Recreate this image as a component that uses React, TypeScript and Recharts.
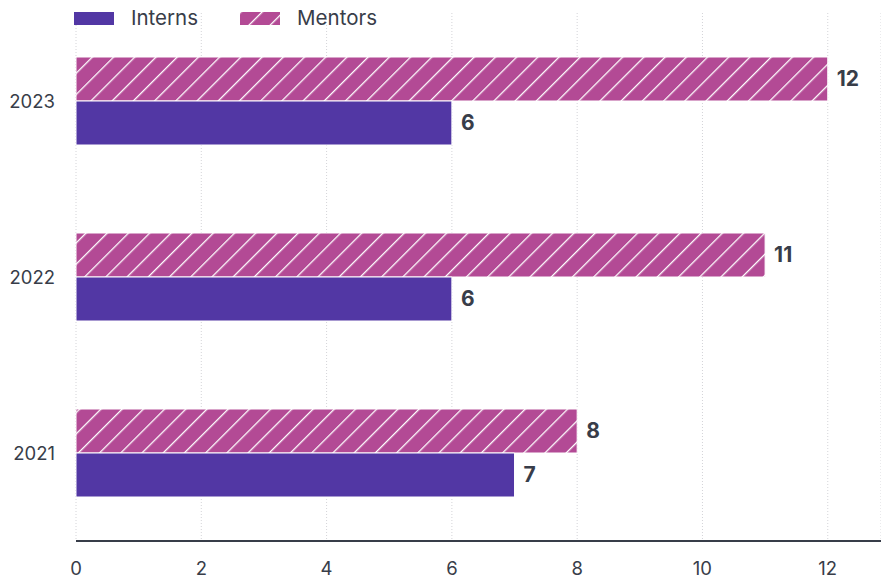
import React from 'react';
import { BarChart, Bar, XAxis, YAxis, CartesianGrid, LabelList } from 'recharts';

const years = ['2023', '2022', '2021'];
const interns = [6, 6, 7];
const mentors = [12, 11, 8];
const xTicks = [0, 2, 4, 6, 8, 10, 12];

const INTERN_COLOR = '#5237a4';
const MENTOR_COLOR = '#b34a95';
const TEXT = '#383d49';

const data = years.map((year, i) => ({ year, Interns: interns[i], Mentors: mentors[i] }));

function Stripes({ id }: { id: string }) {
  return (
    <pattern id={id} patternUnits="userSpaceOnUse" width="15" height="15" patternTransform="rotate(45)">
      <rect width="15" height="15" fill={MENTOR_COLOR} />
      <line x1="0" y1="0" x2="0" y2="15" stroke="#fff" strokeWidth="2.6" />
    </pattern>
  );
}

function ChartLegend() {
  const item = (label: string, swatch: React.ReactNode, ml: number) => (
    <div style={{ display: 'flex', alignItems: 'center', marginLeft: ml }}>
      {swatch}
      <span style={{ marginLeft: 17, fontSize: 20.5, color: TEXT, lineHeight: '22px' }}>{label}</span>
    </div>
  );
  return (
    <div style={{ position: 'absolute', left: 74, top: 7, display: 'flex', alignItems: 'center' }}>
      {item('Interns', <div style={{ width: 40, height: 13, background: INTERN_COLOR }} />, 0)}
      {item(
        'Mentors',
        <svg width={40} height={13} style={{ display: 'block' }}>
          <defs>
            <Stripes id="legendStripes" />
          </defs>
          <rect width={40} height={13} fill="url(#legendStripes)" />
        </svg>,
        42
      )}
    </div>
  );
}

export default function App() {
  return (
    <div style={{ position: 'absolute', left: 0, top: 0, width: 881, height: 578, background: '#fff', fontFamily: 'Inter, sans-serif' }}>
      <BarChart
        width={881}
        height={578}
        data={data}
        layout="vertical"
        margin={{ top: 13, right: 0, left: 0, bottom: 0 }}
        barSize={44}
        barGap={0}
      >
        <defs>
          <Stripes id="mentorStripes" />
        </defs>
        <CartesianGrid horizontal={false} stroke="#d4d4d8" strokeDasharray="1 2" />
        <XAxis
          type="number"
          domain={[0, 12.85]}
          ticks={xTicks}
          tickLine={false}
          axisLine={{ stroke: TEXT, strokeWidth: 2 }}
          tick={{ fontSize: 18.5, fill: TEXT }}
          tickMargin={15}
          height={37}
          allowDataOverflow
        />
        <YAxis
          type="category"
          dataKey="year"
          width={76}
          axisLine={false}
          tickLine={false}
          tick={{ fontSize: 18.5, fill: TEXT }}
          tickMargin={15}
        />
        <Bar dataKey="Mentors" fill="url(#mentorStripes)" stroke="#fff" strokeWidth={1} isAnimationActive={false}>
          <LabelList dataKey="Mentors" position="right" offset={9} style={{ fontSize: 21, fontWeight: 700, fill: TEXT }} />
        </Bar>
        <Bar dataKey="Interns" fill={INTERN_COLOR} stroke="#fff" strokeWidth={1} isAnimationActive={false}>
          <LabelList dataKey="Interns" position="right" offset={9} style={{ fontSize: 21, fontWeight: 700, fill: TEXT }} />
        </Bar>
      </BarChart>
      <ChartLegend />
    </div>
  );
}
